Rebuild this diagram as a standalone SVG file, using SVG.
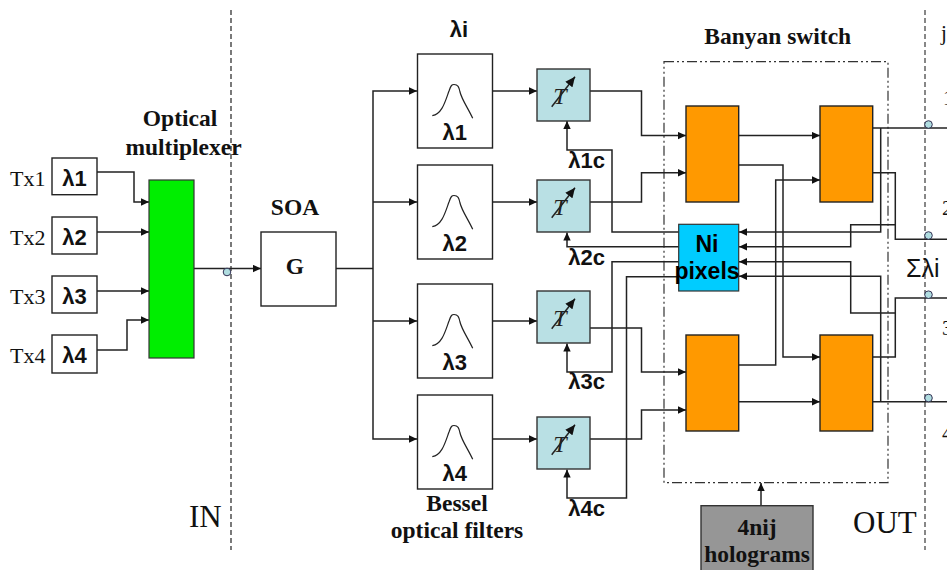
<svg xmlns="http://www.w3.org/2000/svg" width="947" height="570" viewBox="0 0 947 570">
<defs>
<style>
.b{fill:#fff;stroke:#222;stroke-width:1.4}
.c{fill:none;stroke:#222;stroke-width:1.5}
.a{marker-end:url(#ar)}
.t{marker-end:url(#ar2)}
.cu{fill:none;stroke:#222;stroke-width:1.2}
.tb{fill:#b9e0e4;stroke:#333;stroke-width:1.4}
.or{fill:#ff9900;stroke:#222;stroke-width:1.4}
.dot{fill:#b0dde0;stroke:#335;stroke-width:1}
.s{font-family:"Liberation Serif","Times New Roman",serif;fill:#111}
.sb{font-family:"Liberation Serif","Times New Roman",serif;font-weight:bold;font-size:23.5px;fill:#111;text-anchor:middle}
.ss{font-family:"Liberation Sans",Arial,sans-serif;font-weight:bold;font-size:22px;fill:#111;text-anchor:middle}
.ti{font-family:"Liberation Serif","Times New Roman",serif;font-style:italic;font-size:24px;fill:#222;text-anchor:middle}
</style>
<marker id="ar" markerUnits="userSpaceOnUse" markerWidth="8" markerHeight="8" refX="8" refY="4" orient="auto"><path d="M0,0.3 L8,4 L0,7.7 Z" fill="#111"/></marker>
<marker id="ar2" markerUnits="userSpaceOnUse" markerWidth="10" markerHeight="10" refX="10" refY="5" orient="auto"><path d="M0,0.5 L10,5 L0,9.5 Z" fill="#111"/></marker>
</defs>
<rect width="947" height="570" fill="#fff"/>
<g id="boundaries" fill="none">
<path d="M231,10V550" stroke="#222" stroke-width="1.2" stroke-dasharray="5,3"/>
<path d="M925,10V550" stroke="#555" stroke-width="1.4" stroke-dasharray="5,3"/>
<rect x="664" y="61.700" width="224" height="421" stroke="#333" stroke-width="1.2" stroke-dasharray="10,3,2,3,2,3"/>
</g>
<g id="connectors">
<path class="c a" d="M97,172H134V202H149"/>
<path class="c a" d="M97,232H149"/>
<path class="c a" d="M97,291H149"/>
<path class="c a" d="M97,350H127V320H149"/>
<path class="c a" d="M194,268.500H261"/>
<path class="c" d="M336,268.500H373"/>
<path class="c a" d="M373,269V91H417"/>
<path class="c a" d="M373,202H417"/>
<path class="c a" d="M373,321H417"/>
<path class="c a" d="M373,269V439H417"/>
<path class="c a" d="M492,91H537"/>
<path class="c a" d="M492,202H537"/>
<path class="c a" d="M492,321H537"/>
<path class="c a" d="M492,439H537"/>
<path class="c a" d="M590,91H641.500V135.600H686"/>
<path class="c a" d="M590,202H641.500V172.700H686"/>
<path class="c a" d="M590,328H641.500V372H686"/>
<path class="c a" d="M590,439H641.500V410H686"/>
<path class="c a" d="M679,232H612V150H567V121"/>
<path class="c a" d="M679,246.700H567V232.500"/>
<path class="c a" d="M679,261.700H612V372H567V343.500"/>
<path class="c a" d="M679,276.700H626.500V498H567V469.500"/>
<path class="c a" d="M738.700,135.600H820"/>
<path class="c a" d="M738.700,165H783V357H820"/>
<path class="c a" d="M738.700,365H775.700V180H820"/>
<path class="c a" d="M738.700,401.700H820"/>
<path class="c" d="M873,128H947"/>
<path class="c a" d="M880.700,128V232H739"/>
<path class="c" d="M873,172.700H895.300V239.300H947"/>
<path class="c a" d="M895.300,224.700H850.700V246.700H739"/>
<path class="c" d="M873,357H895.300V298H947"/>
<path class="c a" d="M895.300,313H850.700V261.700H739"/>
<path class="c" d="M873,401.700H947"/>
<path class="c a" d="M880.700,401.700V276.300H739"/>
<path class="c a" d="M761,505.700V483"/>
</g>
<g id="tx1"><text class="s" font-size="22" x="10" y="186">Tx1</text><rect class="b" x="52" y="158" width="45" height="36.700"/><text class="ss" x="74.500" y="186">λ1</text></g>
<g id="tx2"><text class="s" font-size="22" x="10" y="245">Tx2</text><rect class="b" x="52" y="217" width="45" height="37"/><text class="ss" x="74.500" y="245">λ2</text></g>
<g id="tx3"><text class="s" font-size="22" x="10" y="304">Tx3</text><rect class="b" x="52" y="276" width="45" height="37"/><text class="ss" x="74.500" y="304">λ3</text></g>
<g id="tx4"><text class="s" font-size="22" x="10" y="363">Tx4</text><rect class="b" x="52" y="335" width="45" height="38"/><text class="ss" x="74.500" y="363">λ4</text></g>
<g id="mux"><rect x="149" y="180" width="45" height="178" fill="#00ee00" stroke="#333" stroke-width="1.2"/><text class="sb" x="180" y="126">Optical</text><text class="sb" x="183.500" y="155">multiplexer</text></g>
<g id="soa"><rect class="b" x="261" y="232" width="75" height="74"/><text class="sb" x="295" y="215">SOA</text><text class="sb" x="295" y="274">G</text></g>
<g id="filter1"><rect class="b" x="417.500" y="54" width="75" height="94"/><path class="cu" d="M432.300,115.700C442,114 445,102 449,91C451,85 452,84.500 454,84.500C458,84.500 459,87 460,92C462,100 468,108 472.700,118.300"/><text class="ss" x="454.700" y="140">λ1</text></g>
<g id="filter2"><rect class="b" x="417.500" y="165" width="75" height="94"/><path class="cu" transform="translate(0,111)" d="M432.300,115.700C442,114 445,102 449,91C451,85 452,84.500 454,84.500C458,84.500 459,87 460,92C462,100 468,108 472.700,118.300"/><text class="ss" x="454.700" y="251">λ2</text></g>
<g id="filter3"><rect class="b" x="417.500" y="284" width="75" height="94"/><path class="cu" transform="translate(0,230)" d="M432.300,115.700C442,114 445,102 449,91C451,85 452,84.500 454,84.500C458,84.500 459,87 460,92C462,100 468,108 472.700,118.300"/><text class="ss" x="454.700" y="370">λ3</text></g>
<g id="filter4"><rect class="b" x="417.500" y="395" width="75" height="94"/><path class="cu" transform="translate(0,341)" d="M432.300,115.700C442,114 445,102 449,91C451,85 452,84.500 454,84.500C458,84.500 459,87 460,92C462,100 468,108 472.700,118.300"/><text class="ss" x="454.700" y="481">λ4</text></g>
<g id="filter-labels"><text class="ss" x="459" y="37">λi</text><text class="sb" x="457" y="510.700">Bessel</text><text class="sb" x="457" y="538">optical filters</text></g>
<g id="tunable1"><rect class="tb" x="537" y="69" width="53" height="52"/><text class="ti" x="560" y="104">T</text><path class="c t" d="M551.700,106.700L575,76.700"/></g>
<g id="tunable2"><rect class="tb" x="537" y="180" width="53" height="52"/><text class="ti" x="560" y="215">T</text><path class="c t" d="M551.700,217.700L575,187.700"/></g>
<g id="tunable3"><rect class="tb" x="537" y="291" width="53" height="52"/><text class="ti" x="560" y="326">T</text><path class="c t" d="M551.700,328.700L575,298.700"/></g>
<g id="tunable4"><rect class="tb" x="537" y="417" width="53" height="52"/><text class="ti" x="560" y="452">T</text><path class="c t" d="M551.700,454.700L575,424.700"/></g>
<g id="control-labels"><text class="ss" x="586.700" y="168">λ1c</text><text class="ss" x="586.700" y="265">λ2c</text><text class="ss" x="586.700" y="389">λ3c</text><text class="ss" x="586.700" y="516">λ4c</text></g>
<g id="banyan"><text class="sb" x="777.700" y="44">Banyan switch</text></g>
<g id="sw-a"><rect class="or" x="686" y="106" width="52.700" height="96"/></g>
<g id="sw-b"><rect class="or" x="820" y="106" width="52.700" height="96"/></g>
<g id="sw-c"><rect class="or" x="686" y="335" width="52.700" height="96"/></g>
<g id="sw-d"><rect class="or" x="820" y="335" width="52.700" height="96"/></g>
<g id="ni-pixels"><rect x="678.700" y="224.300" width="60" height="66.700" fill="#00ccff" stroke="#333" stroke-width="1.2"/><text class="ss" style="font-size:23px;fill:#000" x="707" y="251.700">Ni</text><text class="ss" style="font-size:23px;fill:#000" x="707" y="279.300">pixels</text></g>
<g id="holograms"><rect x="701" y="505.700" width="112" height="70" fill="#969696" stroke="#333" stroke-width="1.4"/><text class="sb" x="757" y="535">4nij</text><text class="sb" x="757" y="561.700">holograms</text></g>
<g id="tap-points"><circle class="dot" cx="227" cy="272" r="3.800"/><circle class="dot" cx="928.500" cy="124.500" r="3.800"/><circle class="dot" cx="928.500" cy="235.500" r="3.800"/><circle class="dot" cx="928.500" cy="294.700" r="3.800"/><circle class="dot" cx="928.500" cy="398" r="3.800"/></g>
<g id="side-labels">
<text class="s" font-size="31" x="189" y="527">IN</text>
<text class="s" font-size="31" x="853" y="533">OUT</text>
<text font-family="Liberation Sans, Arial, sans-serif" font-size="25" fill="#111" x="906" y="277">Σλi</text>
<text class="s" font-size="21" x="941" y="40">j</text>
<text class="s" font-size="21" x="943" y="105">1</text>
<text class="s" font-size="21" x="942" y="215">2</text>
<text class="s" font-size="21" x="942" y="335">3</text>
<text class="s" font-size="21" x="942" y="440">4</text>
</g>
</svg>
